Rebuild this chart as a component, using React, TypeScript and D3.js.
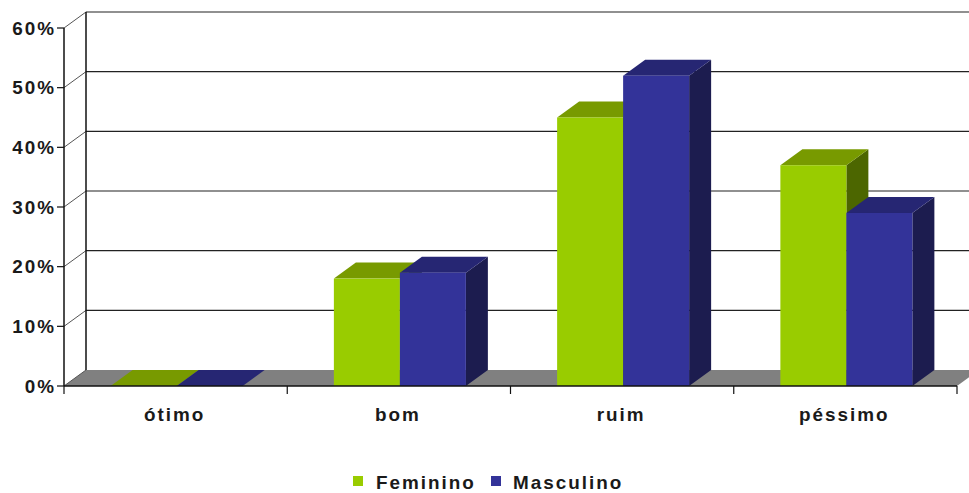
import React from "react";
import * as d3 from "d3";

// Survey answers by category, percentage per group
const categories = ["ótimo", "bom", "ruim", "péssimo"];
const seriesNames = ["Feminino", "Masculino"];
const feminino = [0, 18, 45, 37];
const masculino = [0, 19, 52, 29];
const yTicks = [0, 10, 20, 30, 40, 50, 60];

const W = 969;
const H = 493;
const DX = 22; // depth offset, x
const DY = 16; // depth offset, y
const FONT = "'Liberation Sans', Arial, sans-serif";
const TEXT_COLOR = "#1a1a1a";
const SPACING = 1.9;
const STRETCH = 1.05;

const palette: Record<string, { front: string; top: string; side: string }> = {
  Feminino: { front: "#99cc00", top: "#789a00", side: "#4c6600" },
  Masculino: { front: "#333399", top: "#262673", side: "#1c1c4f" },
};

const seriesValues: Record<string, number[]> = {
  Feminino: feminino,
  Masculino: masculino,
};

const pts = (p: [number, number][]) => p.map((d) => d.join(",")).join(" ");

function Bar({ x0, x1, y0, y1, colors }: { x0: number; x1: number; y0: number; y1: number; colors: { front: string; top: string; side: string } }) {
  const h = y0 - y1;
  return (
    <g>
      {h > 0 && (
        <polygon
          points={pts([[x1, y1], [x1 + DX, y1 - DY], [x1 + DX, y0 - DY], [x1, y0]])}
          fill={colors.side}
        />
      )}
      <polygon
        points={pts([[x0, y1], [x0 + DX, y1 - DY], [x1 + DX, y1 - DY], [x1, y1]])}
        fill={colors.top}
      />
      {h > 0 && <rect x={x0} y={y1} width={x1 - x0} height={h} fill={colors.front} />}
    </g>
  );
}

export default function App() {
  const xLeft = 64;
  const xRight = 957;
  const y = d3.scaleLinear().domain([0, 60]).range([386, 28]);
  const x0 = d3.scaleBand<string>().domain(categories).range([xLeft, xRight]).padding(0);
  const groupW = 132;
  const bw = x0.bandwidth();
  const x1 = d3
    .scaleBand<string>()
    .domain(seriesNames)
    .range([(bw - groupW) / 2 + 1, (bw + groupW) / 2 + 1])
    .padding(0);

  const base = y(0);
  const labelStyle = {
    fontFamily: FONT,
    fontWeight: 700,
    fontSize: 18,
    letterSpacing: `${SPACING}px`,
    fill: TEXT_COLOR,
  } as React.CSSProperties;

  const legendItems = [
    { name: seriesNames[0], sx: 353, tx: 376 },
    { name: seriesNames[1], sx: 491, tx: 513 },
  ];

  return (
    <svg width={W} height={H} style={{ position: "absolute", left: 0, top: 0, background: "#fff" }}>
      {/* floor */}
      <polygon
        points={pts([[xLeft, base], [xRight, base], [xRight + DX, base - DY], [xLeft + DX, base - DY]])}
        fill="#808080"
      />
      {/* back wall gridlines and side-wall diagonals */}
      {yTicks.map((t) => (
        <g key={t}>
          {t > 0 && (
            <line x1={xLeft + DX} x2={W} y1={y(t) - DY} y2={y(t) - DY} stroke="#222" strokeWidth={1.2} />
          )}
          <line x1={xLeft} x2={xLeft + DX} y1={y(t)} y2={y(t) - DY} stroke="#555" strokeWidth={1} />
        </g>
      ))}
      <line x1={xLeft + DX} x2={xLeft + DX} y1={y(60) - DY} y2={base - DY} stroke="#111" strokeWidth={1.5} />

      {/* bars */}
      {categories.map((c, i) => (
        <g key={c} transform={`translate(${x0(c)},0)`}>
          {seriesNames.map((s) => {
            const bx = x1(s)!;
            return (
              <Bar
                key={s}
                x0={bx}
                x1={bx + x1.bandwidth()}
                y0={base}
                y1={y(seriesValues[s][i])}
                colors={palette[s]}
              />
            );
          })}
        </g>
      ))}

      {/* value axis */}
      <line x1={xLeft} x2={xLeft} y1={y(60)} y2={base} stroke="#111" strokeWidth={1.5} />
      {yTicks.map((t) => (
        <g key={`t${t}`}>
          <line x1={xLeft - 7} x2={xLeft} y1={y(t)} y2={y(t)} stroke="#111" strokeWidth={1.2} />
          <g transform={`translate(54,${y(t) + 6.5}) scale(${STRETCH},1)`}>
            <text textAnchor="end" dx={SPACING} style={labelStyle}>
              {`${t}%`}
            </text>
          </g>
        </g>
      ))}

      {/* category axis */}
      <line x1={xLeft} x2={xRight} y1={base} y2={base} stroke="#111" strokeWidth={1.5} />
      {[...categories.map((c) => x0(c)!), xRight].map((tx, i) => (
        <line key={`c${i}`} x1={tx} x2={tx} y1={base} y2={base + 8} stroke="#111" strokeWidth={1.2} />
      ))}
      {categories.map((c) => (
        <g key={`l${c}`} transform={`translate(${x0(c)! + bw / 2 - 2},421) scale(${STRETCH},1)`}>
          <text textAnchor="middle" dx={SPACING / 2} style={labelStyle}>
            {c}
          </text>
        </g>
      ))}

      {/* legend */}
      {legendItems.map((it) => (
        <g key={it.name}>
          <rect x={it.sx} y={476} width={10} height={10} fill={palette[it.name].front} />
          <g transform={`translate(${it.tx},489) scale(${STRETCH},1)`}>
            <text style={labelStyle}>{it.name}</text>
          </g>
        </g>
      ))}
    </svg>
  );
}
